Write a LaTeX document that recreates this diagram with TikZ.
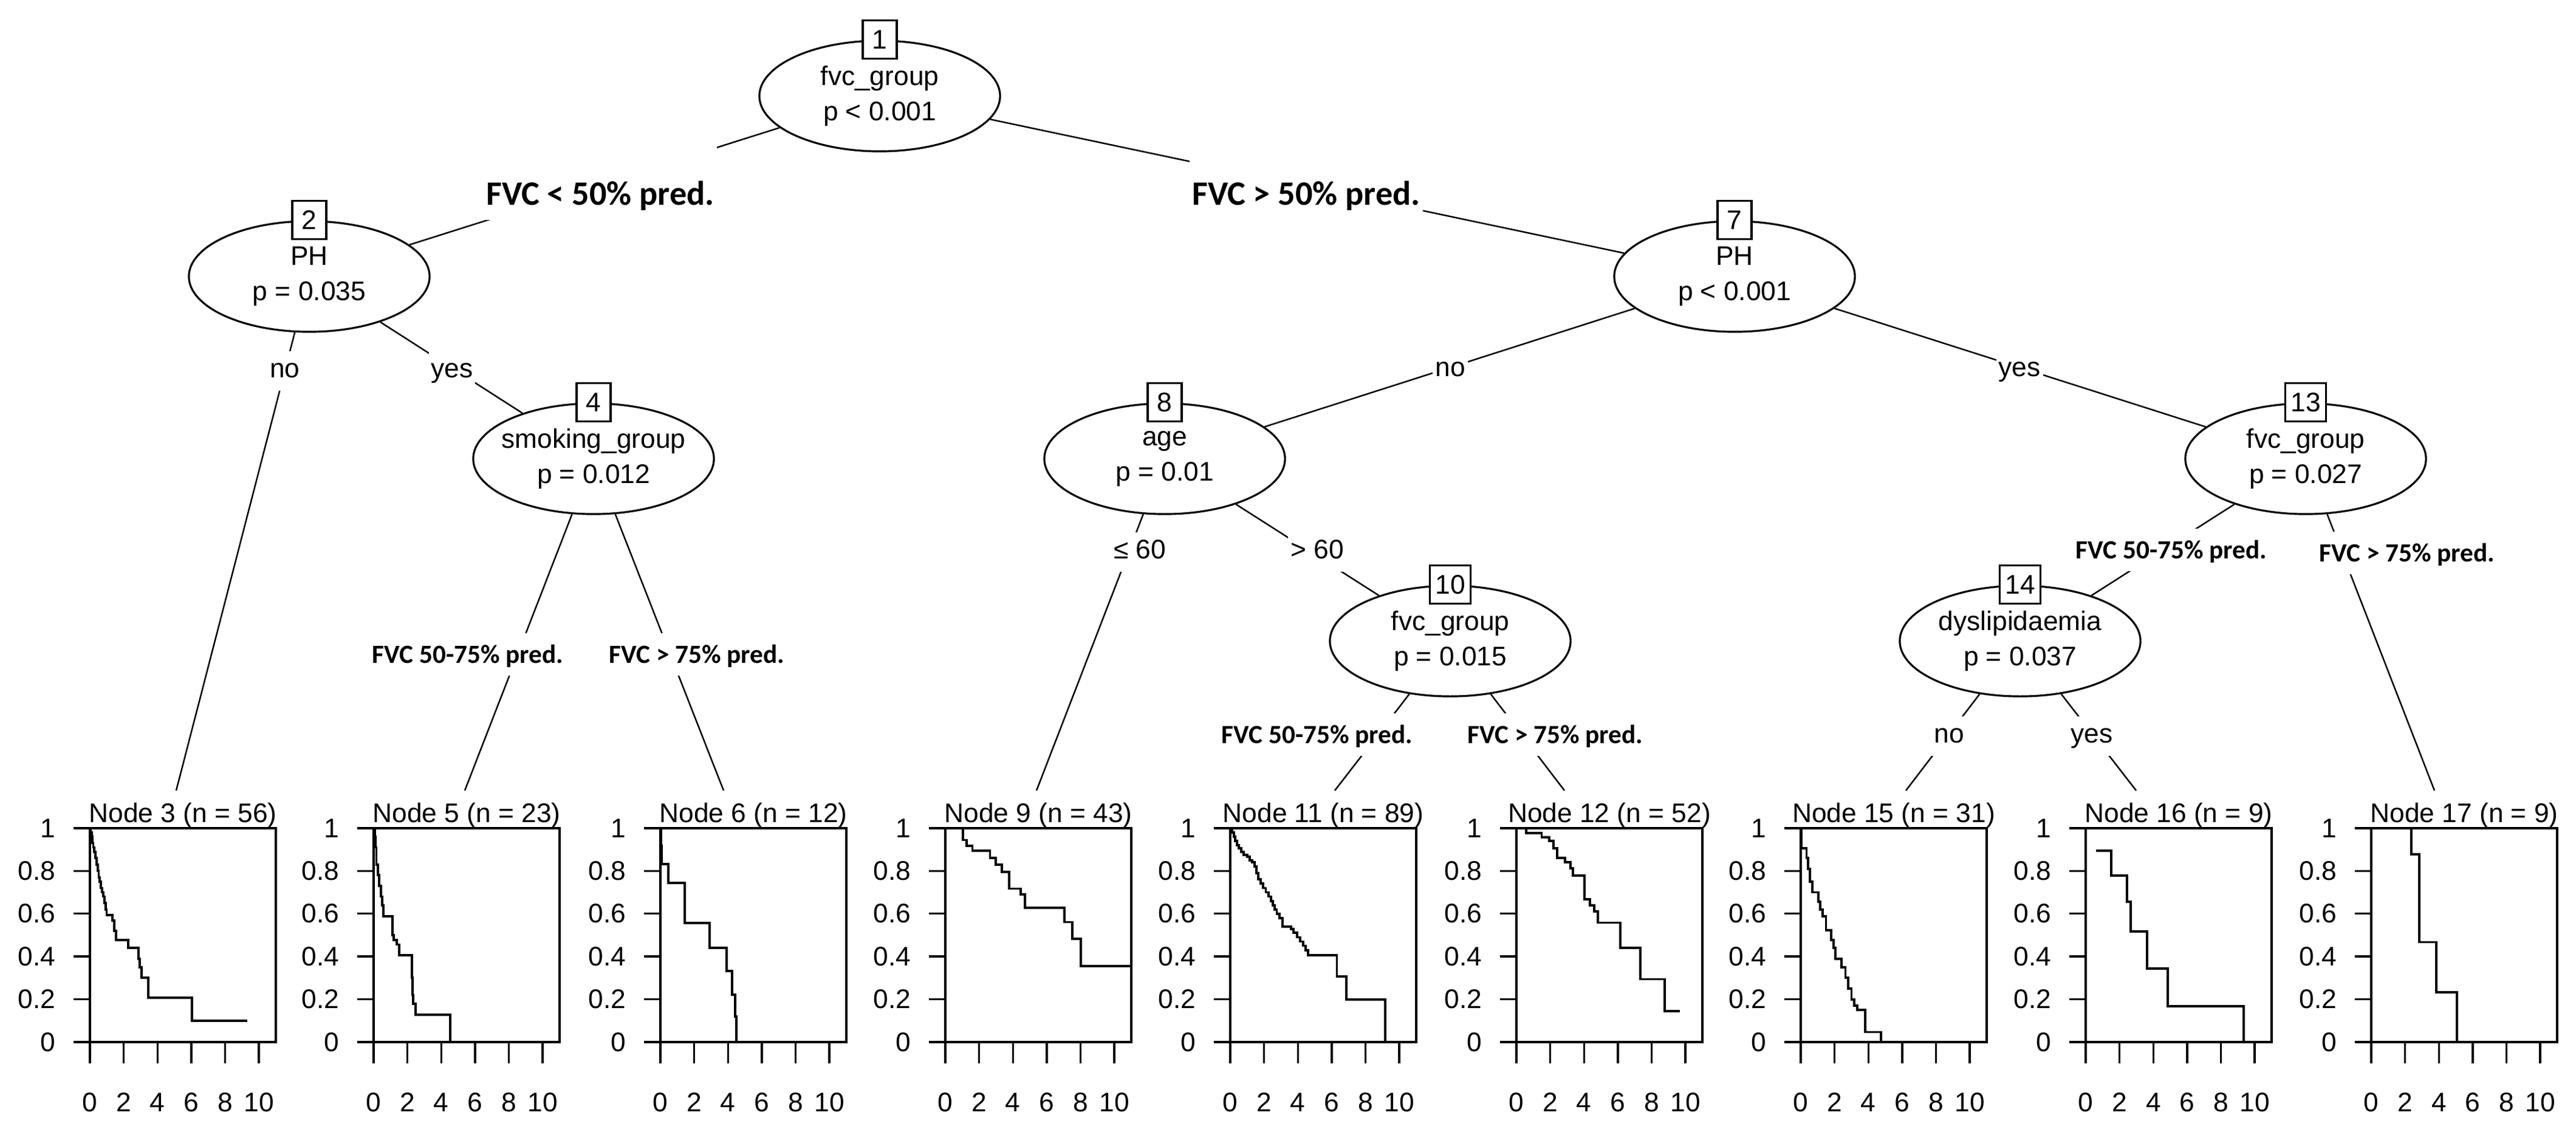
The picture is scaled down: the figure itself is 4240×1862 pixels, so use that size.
\documentclass[tikz,border=0pt]{standalone}
\usepackage{fontspec}
\setmainfont{Liberation Sans}
\newfontfamily\carl{Carlito}
\usetikzlibrary{shapes.geometric}
\newcommand{\nodefont}{\fontsize{12.6}{16.5}\selectfont}
\newcommand{\toplabfont}{\carl\bfseries\fontsize{16}{19}\selectfont}
\newcommand{\midlabfont}{\carl\bfseries\fontsize{12.3}{15}\selectfont}
\tikzset{
  ell/.style={draw, line width=0.9pt, ellipse, fill=white, minimum width=3.96cm, minimum height=1.82cm, inner xsep=-0.3cm, inner ysep=0pt, align=center, font=\nodefont},
  idbox/.style={draw, line width=0.9pt, fill=white, minimum width=0.56cm, minimum height=0.63cm, inner xsep=0.09cm, inner ysep=0pt, font=\nodefont},
  edge/.style={line width=0.7pt},
  toplab/.style={fill=white, font=\toplabfont, text height=1.02cm, text depth=0.25cm, inner xsep=0.04cm, inner ysep=0pt, anchor=base},
  midlab/.style={fill=white, font=\midlabfont, text height=0.49cm, text depth=0.21cm, inner xsep=0.04cm, inner ysep=0pt},
  arlab/.style={fill=white, font=\nodefont, text height=0.44cm, text depth=0.21cm, inner xsep=0.04cm, inner ysep=0pt},
  axisline/.style={line width=1pt},
  ticklab/.style={font=\nodefont, inner sep=0pt},
  titlelab/.style={font=\nodefont, inner sep=0pt, anchor=base},
  kmcurve/.style={line width=1.1pt, line join=miter}
}
% #1 name, #2 plot left (px), #3 edge end x (px), #4 title, #5 curve coordinates
\newcommand{\kmpanel}[5]{%
  \coordinate (#1) at (#3,1301);
  \begin{scope}[shift={(#2,1715)}, x=0.278cm, y=3.52cm]
    \draw[axisline] (0,0) rectangle (11,1);
    \foreach \yv [count=\i] in {0,0.2,0.4,0.6,0.8,1} {
      \draw[axisline] (0,\yv) -- ++(-0.27cm,0);
      \node[ticklab, anchor=east] (#1y\i) at ([xshift=-0.56cm]0,\yv) {\yv};
    }
    \foreach \xv in {0,2,4,6,8,10} {
      \draw[axisline] (\xv,0) -- ++(0,-0.35cm);
      \node[ticklab] (#1x\xv) at ([yshift=-0.99cm]\xv,0) {\xv};
    }
    \node[titlelab] (#1t) at ([yshift=0.09cm]5.5,1) {#4};
    \draw[kmcurve] plot[const plot] coordinates {#5};
  \end{scope}}

\begin{document}
\begin{tikzpicture}[x=0.01cm, y=-0.01cm]
\fill[white] (0,0) rectangle (4240,1862);
\useasboundingbox (0,0) rectangle (4240,1862);

% inner nodes
\node[ell] (n1) at (1448,158) {fvc\_group\\p < 0.001};
\node[ell] (n2) at (509,455) {PH\\p = 0.035};
\node[ell] (n4) at (977,755) {smoking\_group\\p = 0.012};
\node[ell] (n7) at (2855,455) {PH\\p < 0.001};
\node[ell] (n8) at (1917,755) {age\\p = 0.01};
\node[ell] (n10) at (2387,1055) {fvc\_group\\p = 0.015};
\node[ell] (n13) at (3795,755) {fvc\_group\\p = 0.027};
\node[ell] (n14) at (3325,1055) {dyslipidaemia\\p = 0.037};
\node[idbox] (b1) at (n1.north) {1};
\node[idbox] (b2) at (n2.north) {2};
\node[idbox] (b4) at (n4.north) {4};
\node[idbox] (b7) at (n7.north) {7};
\node[idbox] (b8) at (n8.north) {8};
\node[idbox] (b10) at (n10.north) {10};
\node[idbox] (b13) at (n13.north) {13};
\node[idbox] (b14) at (n14.north) {14};

% terminal panels
\kmpanel{t3}{148}{290}{Node 3 (n = 56)}{(0,1) (0.05,0.98) (0.1,0.96) (0.15,0.93) (0.2,0.91) (0.26,0.89) (0.32,0.86) (0.4,0.83) (0.46,0.8) (0.52,0.77) (0.58,0.75) (0.64,0.72) (0.72,0.7) (0.8,0.68) (0.87,0.65) (0.92,0.62) (0.99,0.594) (1.33,0.567) (1.45,0.52) (1.56,0.478) (2.25,0.439) (2.87,0.389) (2.95,0.35) (3.05,0.3) (3.45,0.208) (6.03,0.1) (9.31,0.1)}
\kmpanel{t5}{615}{765}{Node 5 (n = 23)}{(0,1) (0.06,0.96) (0.1,0.91) (0.16,0.83) (0.24,0.78) (0.32,0.73) (0.42,0.68) (0.5,0.64) (0.56,0.589) (1.12,0.5) (1.2,0.478) (1.36,0.456) (1.52,0.406) (2.25,0.3) (2.29,0.22) (2.33,0.178) (2.49,0.128) (4.54,0)}
\kmpanel{t6}{1087}{1191}{Node 6 (n = 12)}{(0,1) (0.05,0.917) (0.08,0.833) (0.48,0.744) (1.44,0.556) (2.92,0.439) (3.93,0.333) (4.25,0.222) (4.41,0.12) (4.49,0)}
\kmpanel{t9}{1556}{1706}{Node 9 (n = 43)}{(0,1) (1.03,0.944) (1.26,0.917) (1.6,0.894) (2.64,0.861) (2.98,0.828) (3.33,0.794) (3.78,0.717) (4.47,0.689) (4.7,0.628) (7.06,0.561) (7.5,0.483) (8.03,0.356) (11,0.356)}
\kmpanel{t11}{2025}{2197}{Node 11 (n = 89)}{(0,1) (0.1,0.98) (0.2,0.96) (0.3,0.94) (0.4,0.92) (0.5,0.905) (0.65,0.89) (0.8,0.875) (1.0,0.865) (1.15,0.85) (1.3,0.84) (1.45,0.82) (1.55,0.79) (1.65,0.76) (1.8,0.74) (1.95,0.72) (2.1,0.7) (2.25,0.68) (2.4,0.66) (2.52,0.64) (2.63,0.62) (2.75,0.6) (2.9,0.58) (3.1,0.539) (3.6,0.528) (3.75,0.51) (3.95,0.49) (4.13,0.47) (4.3,0.45) (4.45,0.43) (4.59,0.406) (6.31,0.306) (6.88,0.2) (9.17,0)}
\kmpanel{t12}{2496}{2575}{Node 12 (n = 52)}{(0,1) (0.57,0.978) (1.49,0.956) (1.95,0.94) (2.18,0.906) (2.41,0.861) (2.87,0.84) (3.21,0.811) (3.33,0.778) (4.01,0.667) (4.36,0.64) (4.59,0.61) (4.82,0.558) (6.15,0.439) (7.34,0.294) (8.76,0.144) (9.68,0.144)}
\kmpanel{t15}{2964}{3137}{Node 15 (n = 31)}{(0,1) (0.05,0.906) (0.34,0.86) (0.42,0.81) (0.55,0.75) (0.69,0.7) (1.03,0.656) (1.15,0.62) (1.3,0.589) (1.49,0.522) (1.8,0.478) (1.95,0.44) (2.06,0.389) (2.4,0.35) (2.64,0.3) (2.8,0.25) (3.0,0.2) (3.15,0.17) (3.33,0.15) (3.8,0.047) (4.75,0)}
\kmpanel{t16}{3433}{3516}{Node 16 (n = 9)}{(0.6,0.894) (1.51,0.778) (2.44,0.656) (2.65,0.517) (3.62,0.344) (4.85,0.167) (9.33,0)}
\kmpanel{t17}{3903}{4007}{Node 17 (n = 9)}{(0,1) (2.37,0.878) (2.84,0.467) (3.84,0.233) (5.06,0)}

% edges
\draw[edge] (n1) -- (n2);
\draw[edge] (n1) -- (n7);
\draw[edge] (n2) -- (t3);
\draw[edge] (n2) -- (n4);
\draw[edge] (n4) -- (t5);
\draw[edge] (n4) -- (t6);
\draw[edge] (n7) -- (n8);
\draw[edge] (n7) -- (n13);
\draw[edge] (n8) -- (t9);
\draw[edge] (n8) -- (n10);
\draw[edge] (n10) -- (t11);
\draw[edge] (n10) -- (t12);
\draw[edge] (n13) -- (n14);
\draw[edge] (n13) -- (t17);
\draw[edge] (n14) -- (t15);
\draw[edge] (n14) -- (t16);

% edge labels
\node[toplab] (l2) at (988,337) {FVC < 50\% pred.};
\node[toplab] (l7) at (2150,337) {FVC > 50\% pred.};
\node[arlab] (l3) at (469,610) {no};
\node[arlab] (l4) at (744,610) {yes};
\node[midlab] (l5) at (770,1077) {FVC 50-75\% pred.};
\node[midlab] (l6) at (1147,1077) {FVC > 75\% pred.};
\node[arlab] (l8) at (2387,608) {no};
\node[arlab] (l13) at (3324,608) {yes};
\node[arlab] (l9) at (1876,908) {≤ 60};
\node[arlab] (l10) at (2168,908) {> 60};
\node[midlab] (l11) at (2168,1209) {FVC 50-75\% pred.};
\node[midlab] (l12) at (2560,1209) {FVC > 75\% pred.};
\node[midlab] (l14) at (3574,905) {FVC 50-75\% pred.};
\node[midlab] (l17) at (3962,910) {FVC > 75\% pred.};
\node[arlab] (l15) at (3208,1211) {no};
\node[arlab] (l16) at (3443,1211) {yes};
\end{tikzpicture}
\end{document}
